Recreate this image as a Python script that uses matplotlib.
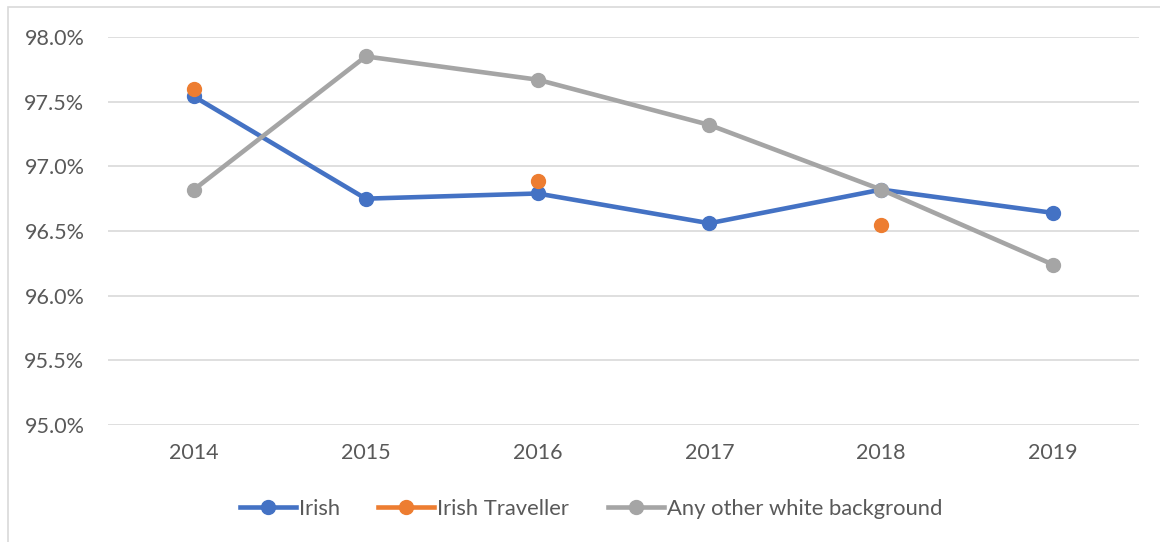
import matplotlib
matplotlib.use("Agg")
import matplotlib.pyplot as plt
import numpy as np
from matplotlib.ticker import FuncFormatter
from matplotlib.patches import Rectangle

years = ["2014", "2015", "2016", "2017", "2018", "2019"]
irish = [97.54, 96.75, 96.79, 96.56, 96.82, 96.64]
irish_traveller = [97.60, np.nan, 96.89, np.nan, 96.55, np.nan]
other_white = [96.82, 97.85, 97.67, 97.32, 96.82, 96.24]
y_ticks = [95.0, 95.5, 96.0, 96.5, 97.0, 97.5, 98.0]

plt.rcParams['font.family'] = ['Lato', 'DejaVu Sans']
W, H = 1160, 542
fig = plt.figure(figsize=(W/100, H/100), dpi=100)
ax = fig.add_axes([108/W, 1-425/H, (1139-108)/W, (425-37)/H])

fig.patches.append(Rectangle((8/W, -0.1), 1.2, 1-7/H+0.1, transform=fig.transFigure,
                             fill=False, edgecolor='#d9d9d9', linewidth=1.2))

x = np.arange(len(years))
lw = 3.3; ms = 10
lines = []
lines += ax.plot(x, irish, color='#4472C4', lw=lw, marker='o', ms=ms, label='Irish', zorder=3)
lines += ax.plot(x, irish_traveller, color='#ED7D31', lw=lw, marker='o', ms=ms, label='Irish Traveller', zorder=4)
lines += ax.plot(x, other_white, color='#A5A5A5', lw=lw, marker='o', ms=ms, label='Any other white background', zorder=3)

ax.set_xlim(-0.5, len(years)-0.5)
ax.set_ylim(95.0, 98.0)
ax.set_yticks(y_ticks)
ax.yaxis.set_major_formatter(FuncFormatter(lambda v, p: f"{v:.1f}%"))
ax.set_xticks(x)
ax.set_xticklabels(years)
ax.grid(axis='y', color='#d9d9d9', lw=1.2)
ax.set_axisbelow(True)
for s in ax.spines.values():
    s.set_visible(False)
ax.tick_params(length=0, labelsize=15.5, colors='#595959')
ax.tick_params(axis='y', pad=17)
ax.tick_params(axis='x', pad=13)

for ln, xpos in zip(lines, [240, 378, 608]):
    lg = fig.legend(handles=[ln], loc='center left', bbox_to_anchor=(xpos/W, 1-509/H),
                    frameon=False, fontsize=15.8, handlelength=2.55, handletextpad=0.14,
                    borderpad=0, borderaxespad=0, labelcolor='#595959')
ax.patch.set_alpha(0)
fig.savefig("out.png", dpi=100, facecolor='white')
